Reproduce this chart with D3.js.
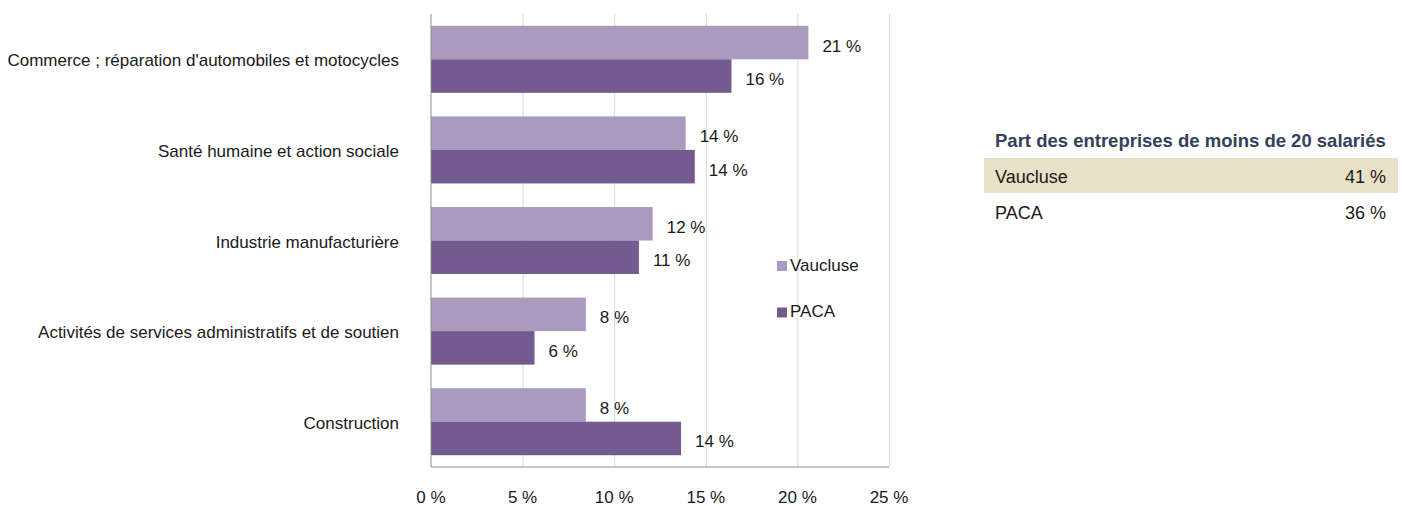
<!DOCTYPE html>
<html lang="fr">
<head>
<meta charset="UTF-8">
<script src="https://d3js.org/d3.v7.min.js"></script>
<title>Secteurs</title>
<style>
  body { margin: 0; background: #fff; font-family: "Liberation Sans", Arial, sans-serif; }
  .gridlines line { stroke: #d9d9d9; }
  .gridlines .domain { stroke: none; }
  text { fill: #1a1a1a; }
</style>
</head>
<body>
<svg id="chart" width="1402" height="506"></svg>
<script>
// data
const categories = [
  "Commerce ; réparation d'automobiles et motocycles",
  "Santé humaine et action sociale",
  "Industrie manufacturière",
  "Activités de services administratifs et de soutien",
  "Construction"
];
const seriesNames = ["Vaucluse", "PACA"];
const vaucluse = [20.6, 13.9, 12.1, 8.45, 8.45];
const paca = [16.4, 14.4, 11.35, 5.65, 13.65];
const xTicks = [0, 5, 10, 15, 20, 25];
const tableTitle = "Part des entreprises de moins de 20 salariés";
const tableRows = ["Vaucluse", "PACA"];
const tableValues = [41, 36];

const colors = ["#a99abe", "#735a8f"];
const fmt = v => Math.round(v) + " %";

const svg = d3.select("#chart");
const margin = {top: 14, left: 431};
const chartWidth = 458, chartHeight = 453;

const x = d3.scaleLinear().domain([0, 25]).range([0, chartWidth]);
const y = d3.scaleBand().domain(categories).range([0, chartHeight]).paddingInner(0.26).paddingOuter(0.13);
const ySub = d3.scaleBand().domain(seriesNames).range([0, y.bandwidth()]);

const g = svg.append("g").attr("transform", "translate(" + margin.left + "," + margin.top + ")");

// gridlines
g.append("g").attr("class", "gridlines")
  .call(d3.axisBottom(x).tickValues(xTicks).tickSize(chartHeight).tickFormat(""))
  .selectAll("line").filter(d => d === 0).remove();

// bars
const rows = categories.map((c, i) => ({cat: c, vals: [vaucluse[i], paca[i]]}));
const groups = g.selectAll("g.cat").data(rows).join("g")
  .attr("class", "cat")
  .attr("transform", d => "translate(0," + y(d.cat) + ")");

groups.selectAll("rect").data(d => d.vals.map((v, j) => ({s: seriesNames[j], v: v, j: j})))
  .join("rect")
  .attr("x", 0)
  .attr("y", d => ySub(d.s))
  .attr("width", d => x(d.v))
  .attr("height", ySub.bandwidth())
  .attr("fill", d => colors[d.j]);

groups.selectAll("text.val").data(d => d.vals.map((v, j) => ({s: seriesNames[j], v: v})))
  .join("text")
  .attr("class", "val")
  .attr("x", d => x(d.v) + 14)
  .attr("y", d => ySub(d.s) + ySub.bandwidth() / 2 + 9)
  .attr("font-size", 17)
  .text(d => fmt(d.v));

// axes
g.append("line").attr("x1", 0).attr("x2", 0).attr("y1", 0).attr("y2", chartHeight)
  .attr("stroke", "#8c8c8c");
g.append("line").attr("x1", 0).attr("x2", chartWidth).attr("y1", chartHeight).attr("y2", chartHeight)
  .attr("stroke", "#8c8c8c");

g.selectAll("text.xt").data(xTicks).join("text")
  .attr("class", "xt")
  .attr("x", d => x(d))
  .attr("y", chartHeight + 36)
  .attr("text-anchor", "middle")
  .attr("font-size", 17)
  .text(d => d + " %");

g.selectAll("text.cat").data(categories).join("text")
  .attr("class", "cat")
  .attr("x", -32)
  .attr("y", d => y(d) + y.bandwidth() / 2 + 7)
  .attr("text-anchor", "end")
  .attr("font-size", 17)
  .text(d => d);

// legend
const legend = svg.append("g").attr("transform", "translate(777,261)");
seriesNames.forEach((s, i) => {
  legend.append("rect").attr("x", 0).attr("y", i * 46.5).attr("width", 10).attr("height", 10)
    .attr("fill", colors[i]);
  legend.append("text").attr("x", 13).attr("y", i * 46.5 + 9.5).attr("font-size", 17).text(s);
});

// table
const table = svg.append("g").attr("transform", "translate(984,0)");
table.append("text").attr("x", 11).attr("y", 147)
  .attr("font-size", 18.5).attr("font-weight", "bold")
  .style("fill", "#34405a")
  .text(tableTitle);
tableRows.forEach((r, i) => {
  if (i === 0) {
    table.append("rect").attr("x", 0).attr("y", 158).attr("width", 414).attr("height", 35)
      .attr("fill", "#e8e1c8");
  }
  table.append("text").attr("x", 11).attr("y", 183 + i * 35.5).attr("font-size", 18).text(r);
  table.append("text").attr("x", 402).attr("y", 183 + i * 35.5).attr("font-size", 18)
    .attr("text-anchor", "end").text(tableValues[i] + " %");
});
</script>
</body>
</html>
